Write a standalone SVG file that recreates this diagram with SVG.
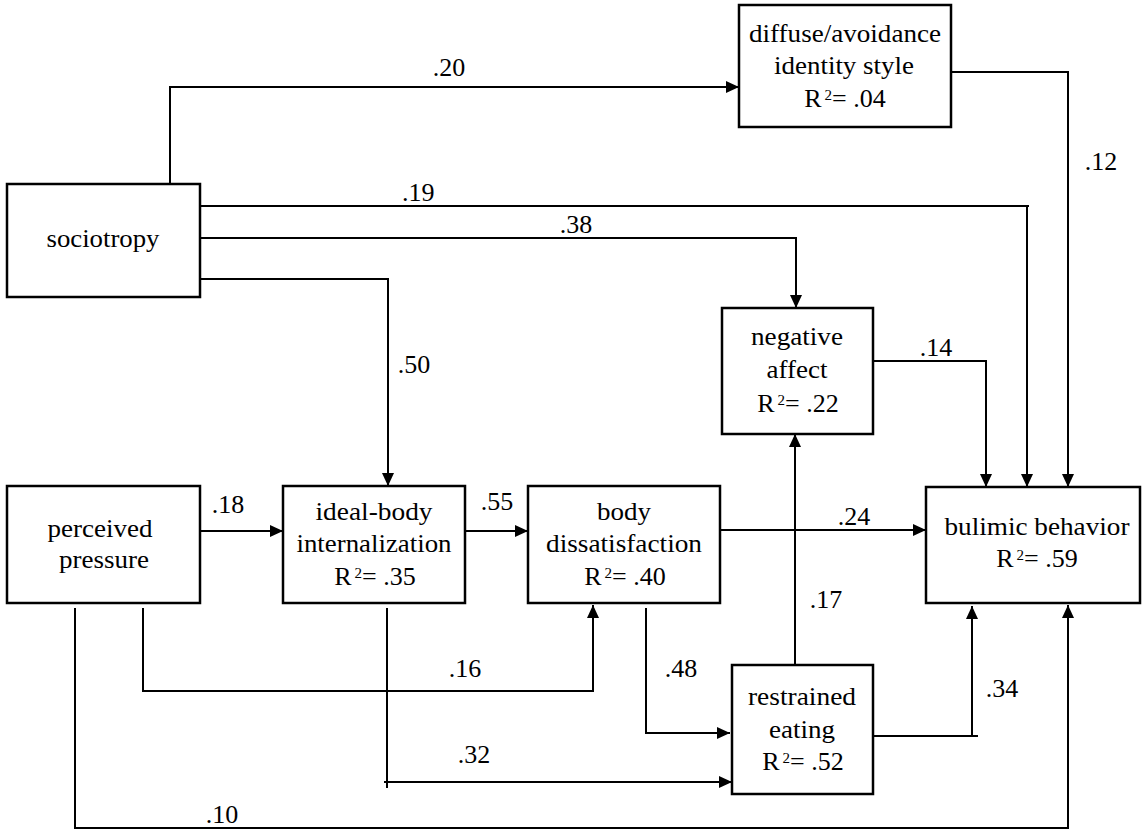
<svg xmlns="http://www.w3.org/2000/svg" width="1143" height="830" viewBox="0 0 1143 830">
<style>
.box{fill:#fff;stroke:#000;stroke-width:2.5}
.c{fill:none;stroke:#000;stroke-width:2}
</style>
<defs>
<marker id="ah" markerUnits="userSpaceOnUse" markerWidth="14" markerHeight="12" refX="13" refY="6" orient="auto">
<path d="M0,0 L13,6 L0,12 z" fill="#000"/>
</marker>
</defs>
<rect width="1143" height="830" fill="#fff"/>
<g id="connectors">
<path class="c" d="M170,184 V87 H739" marker-end="url(#ah)"/>
<path class="c" d="M200,206 H1029 M1027,206 V487" marker-end="url(#ah)"/>
<path class="c" d="M200,238 H796 V308" marker-end="url(#ah)"/>
<path class="c" d="M197,279 H388 V486" marker-end="url(#ah)"/>
<path class="c" d="M945,72 H1068 V487" marker-end="url(#ah)"/>
<path class="c" d="M873,361 H986 V487" marker-end="url(#ah)"/>
<path class="c" d="M720,530 H926" marker-end="url(#ah)"/>
<path class="c" d="M200,531 H283" marker-end="url(#ah)"/>
<path class="c" d="M465,531 H528" marker-end="url(#ah)"/>
<path class="c" d="M143,608 V691 H593 V605" marker-end="url(#ah)"/>
<path class="c" d="M387,608 V788"/>
<path class="c" d="M384,782 H732" marker-end="url(#ah)"/>
<path class="c" d="M646,608 V733 H730" marker-end="url(#ah)"/>
<path class="c" d="M795,665 V434" marker-end="url(#ah)"/>
<path class="c" d="M873,736 H978"/>
<path class="c" d="M972,736 V606" marker-end="url(#ah)"/>
<path class="c" d="M75,608 V828 H1068 V605" marker-end="url(#ah)"/>
<text font-family="Liberation Serif" font-size="26" x="449" y="76" text-anchor="middle">.20</text>
<text font-family="Liberation Serif" font-size="26" x="402" y="201">.19</text>
<text font-family="Liberation Serif" font-size="26" x="576" y="233" text-anchor="middle">.38</text>
<text font-family="Liberation Serif" font-size="26" x="414" y="373" text-anchor="middle">.50</text>
<text font-family="Liberation Serif" font-size="26" x="1101" y="170" text-anchor="middle">.12</text>
<text font-family="Liberation Serif" font-size="26" x="936" y="356" text-anchor="middle">.14</text>
<text font-family="Liberation Serif" font-size="26" x="854" y="525" text-anchor="middle">.24</text>
<text font-family="Liberation Serif" font-size="26" x="228" y="513" text-anchor="middle">.18</text>
<text font-family="Liberation Serif" font-size="26" x="497" y="510" text-anchor="middle">.55</text>
<text font-family="Liberation Serif" font-size="26" x="465" y="677" text-anchor="middle">.16</text>
<text font-family="Liberation Serif" font-size="26" x="474" y="763" text-anchor="middle">.32</text>
<text font-family="Liberation Serif" font-size="26" x="222" y="823" text-anchor="middle">.10</text>
<text font-family="Liberation Serif" font-size="26" x="681" y="677" text-anchor="middle">.48</text>
<text font-family="Liberation Serif" font-size="26" x="826" y="608" text-anchor="middle">.17</text>
<text font-family="Liberation Serif" font-size="26" x="1002" y="697" text-anchor="middle">.34</text>
</g>
<g id="diffuse">
<rect class="box" x="739" y="5" width="212" height="122"/>
<text font-family="Liberation Serif" font-size="26" x="845" y="42" text-anchor="middle" textLength="192" lengthAdjust="spacingAndGlyphs">diffuse/avoidance</text>
<text font-family="Liberation Serif" font-size="26" x="844" y="74" text-anchor="middle" textLength="140" lengthAdjust="spacingAndGlyphs">identity style</text>
<text font-family="Liberation Serif" font-size="26" x="845" y="107" text-anchor="middle">R<tspan font-size="15" dx="3" dy="-7">2</tspan><tspan dy="7">= .04</tspan></text>
</g>
<g id="sociotropy">
<rect class="box" x="7" y="184" width="193" height="113"/>
<text font-family="Liberation Serif" font-size="26" x="103" y="247" text-anchor="middle" textLength="113" lengthAdjust="spacingAndGlyphs">sociotropy</text>
</g>
<g id="negative">
<rect class="box" x="722" y="308" width="151" height="126"/>
<text font-family="Liberation Serif" font-size="26" x="797" y="345" text-anchor="middle" textLength="92" lengthAdjust="spacingAndGlyphs">negative</text>
<text font-family="Liberation Serif" font-size="26" x="797" y="378" text-anchor="middle" textLength="61" lengthAdjust="spacingAndGlyphs">affect</text>
<text font-family="Liberation Serif" font-size="26" x="798" y="412" text-anchor="middle">R<tspan font-size="15" dx="3" dy="-7">2</tspan><tspan dy="7">= .22</tspan></text>
</g>
<g id="bulimic">
<rect class="box" x="926" y="487" width="214" height="116"/>
<text font-family="Liberation Serif" font-size="26" x="1037" y="535" text-anchor="middle" textLength="185" lengthAdjust="spacingAndGlyphs">bulimic behavior</text>
<text font-family="Liberation Serif" font-size="26" x="1037" y="567" text-anchor="middle">R<tspan font-size="15" dx="3" dy="-7">2</tspan><tspan dy="7">= .59</tspan></text>
</g>
<g id="perceived">
<rect class="box" x="7" y="486" width="193" height="117"/>
<text font-family="Liberation Serif" font-size="26" x="100" y="537" text-anchor="middle" textLength="105" lengthAdjust="spacingAndGlyphs">perceived</text>
<text font-family="Liberation Serif" font-size="26" x="104" y="568" text-anchor="middle" textLength="90" lengthAdjust="spacingAndGlyphs">pressure</text>
</g>
<g id="ideal">
<rect class="box" x="283" y="486" width="182" height="117"/>
<text font-family="Liberation Serif" font-size="26" x="374" y="520" text-anchor="middle" textLength="117" lengthAdjust="spacingAndGlyphs">ideal-body</text>
<text font-family="Liberation Serif" font-size="26" x="374" y="552" text-anchor="middle" textLength="155" lengthAdjust="spacingAndGlyphs">internalization</text>
<text font-family="Liberation Serif" font-size="26" x="375" y="585" text-anchor="middle">R<tspan font-size="15" dx="3" dy="-7">2</tspan><tspan dy="7">= .35</tspan></text>
</g>
<g id="bodydis">
<rect class="box" x="528" y="486" width="192" height="117"/>
<text font-family="Liberation Serif" font-size="26" x="624" y="520" text-anchor="middle" textLength="54" lengthAdjust="spacingAndGlyphs">body</text>
<text font-family="Liberation Serif" font-size="26" x="624" y="552" text-anchor="middle" textLength="156" lengthAdjust="spacingAndGlyphs">dissatisfaction</text>
<text font-family="Liberation Serif" font-size="26" x="625" y="585" text-anchor="middle">R<tspan font-size="15" dx="3" dy="-7">2</tspan><tspan dy="7">= .40</tspan></text>
</g>
<g id="restrained">
<rect class="box" x="732" y="665" width="141" height="129"/>
<text font-family="Liberation Serif" font-size="26" x="802" y="705" text-anchor="middle" textLength="108" lengthAdjust="spacingAndGlyphs">restrained</text>
<text font-family="Liberation Serif" font-size="26" x="802" y="738" text-anchor="middle" textLength="66" lengthAdjust="spacingAndGlyphs">eating</text>
<text font-family="Liberation Serif" font-size="26" x="803" y="770" text-anchor="middle">R<tspan font-size="15" dx="3" dy="-7">2</tspan><tspan dy="7">= .52</tspan></text>
</g>
</svg>
